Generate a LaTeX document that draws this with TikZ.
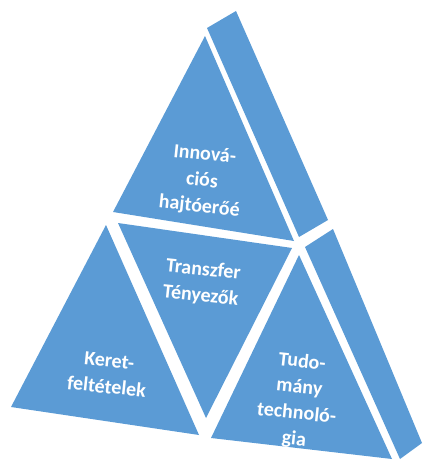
\documentclass[tikz,border=0pt]{standalone}
\usepackage{fontspec}
\setmainfont{Carlito}
\definecolor{kek}{HTML}{5B9BD5}
\begin{document}
\begin{tikzpicture}[x=1pt,y=-1pt]
	\tikzset{lap/.style={fill=kek},
		felirat/.style={text=white, font=\bfseries\fontsize{20}{26}\selectfont, align=center, rotate=-6}}
	\useasboundingbox (0,0) rectangle (423,462);
	%顶部三角形及其侧面
	\fill [lap] (205,36) -- (113,212) -- (294,241) -- cycle;
	\fill [lap] (207,28) -- (236,11) -- (328,220) -- (299,237) -- cycle;
	%左下三角形
	\fill [lap] (106,225) -- (11,407) -- (199,435) -- cycle;
	%中间倒三角形
	\fill [lap] (118,223) -- (292,248) -- (206,418) -- cycle;
	%右下三角形及其侧面
	\fill [lap] (299,255) -- (211,438) -- (392,459) -- cycle;
	\fill [lap] (305,247) -- (333,229) -- (422,443) -- (400,459) -- cycle;
	%标注文字
	\node [felirat] (innovacio) at (202,181) {Innová-\\ciós\\hajtóerőé};
	\node [felirat] (transzfer) at (202,283) {Transzfer\\Tényezők};
	\node [felirat] (keret) at (108,374) {Keret-\\feltételek};
	\node [felirat] (tudomany) at (298,401) {Tudo-\\mány\\technoló-\\gia};
\end{tikzpicture}
\end{document}
